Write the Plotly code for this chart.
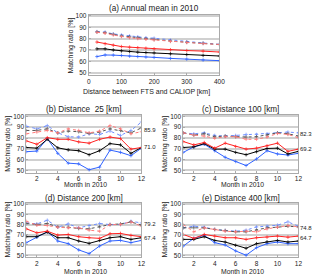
import plotly.graph_objects as go

W, H = 320, 277

# ---------------- data ----------------
dist = [25, 50, 75, 100, 125, 150, 175, 200, 250, 300, 350, 400]
a_black = [71.0, 71.0, 70.0, 69.2, 68.6, 68.1, 67.7, 67.4, 66.6, 65.9, 65.2, 64.7]
a_red = [77.0, 75.5, 74.2, 73.0, 72.5, 72.0, 71.5, 71.0, 70.2, 69.5, 69.0, 68.2]
a_blue = [64.2, 65.6, 65.5, 65.2, 64.6, 64.2, 63.8, 63.5, 62.6, 62.0, 61.2, 60.6]
a_black_d = [85.9, 85.2, 83.8, 82.3, 81.6, 80.8, 80.0, 79.2, 77.9, 76.8, 75.9, 74.8]
a_red_d = [85.6, 84.8, 83.2, 81.8, 80.8, 80.0, 79.4, 78.8, 77.5, 76.5, 75.6, 74.9]
a_blue_d = [86.2, 85.8, 84.2, 83.2, 82.4, 81.6, 80.8, 80.4, 78.8, 77.2, 76.2, 75.0]

months = [1, 2, 3, 4, 5, 6, 7, 8, 9, 10, 11, 12]

b_blue = [67.3, 67.9, 79.4, 65.8, 56.7, 56.0, 50.6, 53.0, 68.8, 66.7, 63.6, 70.6]
b_black = [71.2, 70.6, 78.8, 70.9, 69.0, 68.2, 64.5, 68.2, 74.8, 73.6, 65.8, 71.2]
b_red = [77.3, 74.2, 80.3, 78.8, 78.8, 76.4, 75.2, 78.8, 80.9, 79.4, 69.7, 71.2]
b_blue_d = [90.9, 88.5, 91.5, 84.8, 81.2, 80.9, 83.9, 83.3, 86.4, 82.4, 87.0, 94.8]
b_black_d = [87.0, 87.0, 88.5, 84.8, 86.4, 85.8, 84.2, 85.5, 88.5, 87.0, 84.8, 89.4]
b_red_d = [83.9, 85.5, 87.0, 84.8, 88.5, 87.0, 84.8, 86.4, 91.5, 88.5, 83.9, 85.8]

c_blue = [66.7, 71.8, 74.2, 68.2, 62.1, 58.2, 54.5, 60.6, 68.2, 65.2, 64.2, 65.8]
c_black = [71.2, 71.8, 74.8, 69.7, 69.7, 66.7, 64.5, 67.3, 70.3, 70.6, 65.2, 67.6]
c_red = [76.7, 73.6, 75.8, 70.6, 75.2, 72.1, 69.7, 70.6, 72.7, 75.2, 67.6, 69.7]
c_blue_d = [84.8, 83.9, 84.8, 82.4, 81.8, 82.4, 83.3, 83.3, 83.9, 84.8, 85.5, 84.8]
c_black_d = [84.8, 82.7, 83.9, 81.2, 81.8, 81.2, 80.9, 81.2, 82.7, 84.8, 83.9, 81.8]
c_red_d = [84.8, 82.7, 81.8, 79.7, 81.2, 81.2, 78.8, 78.8, 80.9, 84.2, 83.3, 80.3]

d_blue = [62.3, 67.7, 72.9, 63.9, 61.3, 55.2, 51.6, 59.0, 63.9, 64.5, 62.3, 64.5]
d_black = [68.1, 68.1, 72.6, 67.1, 67.1, 63.9, 61.6, 64.5, 67.1, 68.1, 65.5, 67.1]
d_red = [75.8, 71.9, 73.5, 69.7, 70.3, 68.1, 67.1, 66.5, 71.0, 71.3, 69.4, 68.1]
d_blue_d = [81.6, 80.6, 84.2, 77.4, 80.6, 76.8, 79.0, 81.0, 80.0, 80.0, 83.2, 81.6]
d_black_d = [81.0, 80.0, 81.0, 77.7, 77.4, 76.1, 75.8, 77.7, 80.0, 80.6, 82.6, 79.4]
d_red_d = [83.2, 79.4, 79.0, 77.4, 76.8, 76.8, 74.5, 73.5, 80.0, 80.0, 82.6, 78.4]

e_blue = [59.0, 66.5, 69.4, 62.3, 60.0, 54.2, 50.0, 57.4, 61.3, 62.9, 61.3, 61.3]
e_black = [65.5, 65.5, 68.1, 64.5, 62.9, 59.7, 56.8, 61.3, 63.2, 64.5, 62.9, 63.9]
e_red = [70.3, 66.5, 70.3, 68.7, 67.1, 67.1, 65.5, 67.1, 67.7, 68.7, 67.7, 68.7]
e_blue_d = [76.8, 78.4, 77.4, 75.2, 74.2, 73.5, 74.5, 77.7, 78.4, 79.4, 82.6, 78.4]
e_black_d = [76.8, 76.8, 76.8, 75.2, 74.2, 72.9, 72.9, 74.5, 76.8, 77.4, 78.4, 77.7]
e_red_d = [80.0, 72.9, 76.8, 75.2, 73.5, 72.9, 73.5, 72.9, 75.8, 77.4, 79.0, 77.7]

panel_titles = ["(a) Annual mean in 2010", "(b) Distance  25 [km]", "(c) Distance 100 [km]",
                "(d) Distance 200 [km]", "(e) Distance 400 [km]"]
mean_solid = ["71.0", "69.2", "67.4", "64.7"]
mean_dotted = ["85.9", "82.3", "79.2", "74.8"]

# ---------------- styles ----------------
BLUE = "#2f62ff"
RED = "#ff2222"
BLACK = "#000000"
BLUE_D = "#6f8fff"
RED_D = "#ff7a7a"
BLACK_D = "#555555"

def px_x(p):
    return p / W

def px_y(p):
    return 1 - p / H

fig = go.Figure()

def add_series(xs, series, xa, ya):
    specs = [
        (series[0], BLUE_D, "dot"), (series[1], BLACK_D, "dot"), (series[2], RED_D, "dot"),
        (series[3], BLUE, "solid"), (series[4], BLACK, "solid"), (series[5], RED, "solid"),
    ]
    for ys, col, dash in specs:
        fig.add_trace(go.Scatter(
            x=xs, y=ys, mode="lines+markers", xaxis=xa, yaxis=ya,
            line=dict(color=col, width=1, dash=dash),
            marker=dict(symbol="cross-thin", size=2.5, line=dict(color=col, width=0.7)),
            showlegend=False, hoverinfo="skip"))

add_series(dist, [a_blue_d, a_black_d, a_red_d, a_blue, a_black, a_red], "x", "y")
add_series(months, [b_blue_d, b_black_d, b_red_d, b_blue, b_black, b_red], "x2", "y2")
add_series(months, [c_blue_d, c_black_d, c_red_d, c_blue, c_black, c_red], "x3", "y3")
add_series(months, [d_blue_d, d_black_d, d_red_d, d_blue, d_black, d_red], "x4", "y4")
add_series(months, [e_blue_d, e_black_d, e_red_d, e_blue, e_black, e_red], "x5", "y5")

FONT = "Liberation Sans, Arial, sans-serif"
tickfont = dict(family=FONT, size=6.5, color="#222")

# panel pixel boxes: (left, right, top, bottom)
boxes = {
    1: (89, 223, 12, 73),
    2: (25, 143, 114, 172),
    3: (186, 304, 114, 172),
    4: (25, 143, 203, 258),
    5: (186, 304, 203, 258),
}

layout = dict(width=W, height=H, margin=dict(l=0, r=0, t=0, b=0),
              paper_bgcolor="white", plot_bgcolor="white",
              font=dict(family=FONT, size=7, color="#222"))

for i, (l, r, t, b) in boxes.items():
    sx = "" if i == 1 else str(i)
    xa = dict(domain=[px_x(l), px_x(r)], anchor="y" + sx,
              showline=True, linecolor="#aaaaaa", linewidth=1, mirror=True,
              showgrid=False, zeroline=False, tickfont=tickfont,
              ticks="inside", ticklen=2, tickcolor="#aaaaaa")
    if i == 1:
        xa.update(range=[0, 400], tickvals=[0, 100, 200, 300, 400])
    else:
        xa.update(range=[1, 12], tickvals=[2, 4, 6, 8, 10, 12])
    ya = dict(domain=[px_y(b), px_y(t)], anchor="x" + sx, range=[48, 101],
              tickvals=[50, 60, 70, 80, 90, 100],
              showline=True, linecolor="#aaaaaa", linewidth=1, mirror=True,
              showgrid=True, gridcolor="#d0d0d0", gridwidth=1.5,
              zeroline=False, tickfont=tickfont,
              ticks="inside", ticklen=2, tickcolor="#aaaaaa")
    layout["xaxis" + sx] = xa
    layout["yaxis" + sx] = ya

fig.update_layout(**layout)

ann = []
def add_text(x, y, text, size=7, angle=0, xanchor="center"):
    ann.append(dict(x=px_x(x), y=px_y(y), xref="paper", yref="paper", text=text,
                    showarrow=False, textangle=angle, xanchor=xanchor, yanchor="middle",
                    font=dict(family=FONT, size=size, color="#222")))

# titles
title_pos = [(156, 6), (84, 108), (245, 108), (84, 198), (245, 198)]
for (x, y), t in zip(title_pos, panel_titles):
    add_text(x, y, t, size=8.2)

# x titles
add_text(148, 90, "Distance between FTS and CALIOP [km]", size=7)
add_text(86, 184, "Month in 2010", size=6.8)
add_text(247, 184, "Month in 2010", size=6.8)
add_text(86, 272, "Month in 2010", size=6.8)
add_text(247, 272, "Month in 2010", size=6.8)

# y titles
add_text(71, 43, "Matching ratio [%]", size=7, angle=-90)
add_text(6, 143, "Matching ratio [%]", size=7, angle=-90)
add_text(167, 143, "Matching ratio [%]", size=7, angle=-90)
add_text(6, 230, "Matching ratio [%]", size=7, angle=-90)
add_text(167, 230, "Matching ratio [%]", size=7, angle=-90)

# mean values
mean_pos = [(152, 129, 146), (312, 133, 148), (152, 224, 238), (312, 228, 238)]
for (x, yd, ys), md, ms in zip(mean_pos, mean_dotted, mean_solid):
    add_text(x, yd, md, size=6)
    add_text(x, ys, ms, size=6)

fig.update_layout(annotations=ann)
fig.write_html("out.html", config={"displayModeBar": False},
               post_script="document.body.style.margin='0';document.body.style.overflow='hidden';")
